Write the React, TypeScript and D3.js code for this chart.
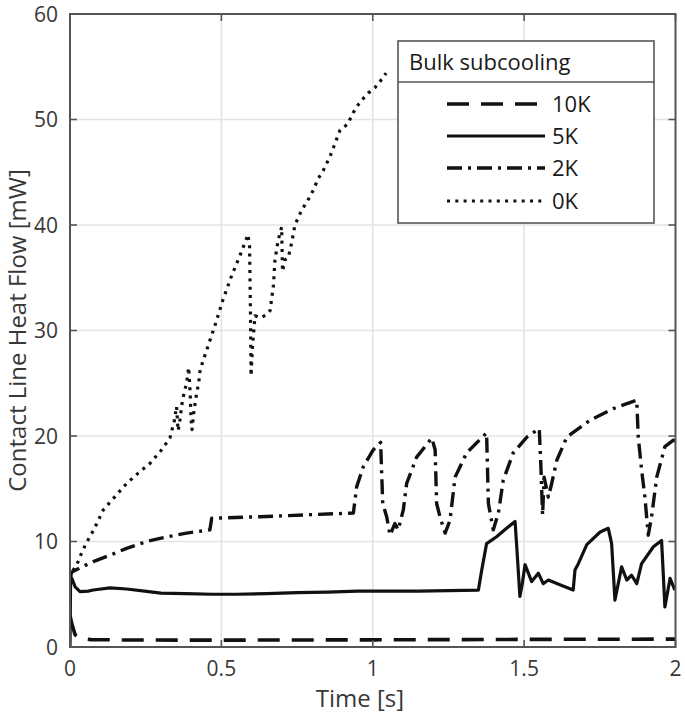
import React from 'react';
import * as d3 from 'd3';

const W = 685;
const H = 715;
const PLOT = { left: 70, right: 675.5, top: 14, bottom: 647 };

const xTicks = [0, 0.5, 1, 1.5, 2];
const xTickLabels = ['0', '0.5', '1', '1.5', '2'];
const yTicks = [0, 10, 20, 30, 40, 50, 60];
const yTickLabels = ['0', '10', '20', '30', '40', '50', '60'];

const xLabel = 'Time [s]';
const yLabel = 'Contact Line Heat Flow [mW]';
const legendTitle = 'Bulk subcooling';
const legendLabels = ['10K', '5K', '2K', '0K'];

// Bulk subcooling 10K (dashed)
const series10K: [number, number][] = [
  [0, 3.0], [0.006, 2.2], [0.017, 1.15], [0.033, 0.82], [0.07, 0.7], [0.2, 0.66],
  [0.5, 0.65], [1.0, 0.68], [1.5, 0.72], [2.0, 0.75],
];

// Bulk subcooling 5K (solid)
const series5K: [number, number][] = [
  [0, 0], [0.002, 6.6], [0.006, 6.5], [0.017, 5.7], [0.033, 5.25], [0.06, 5.3], [0.077, 5.4],
  [0.132, 5.6], [0.187, 5.5], [0.26, 5.25], [0.3, 5.1], [0.38, 5.05], [0.47, 5.0], [0.55, 5.0],
  [0.65, 5.05], [0.75, 5.15], [0.85, 5.2], [0.95, 5.3], [1.05, 5.3], [1.15, 5.3], [1.25, 5.35],
  [1.349, 5.4], [1.36, 7.3], [1.376, 9.8], [1.409, 10.45], [1.442, 11.25], [1.47, 11.9],
  [1.475, 9.8], [1.486, 4.8], [1.494, 6.0], [1.503, 7.8], [1.514, 7.0], [1.525, 6.2],
  [1.547, 7.0], [1.563, 6.0], [1.58, 6.35], [1.618, 5.9], [1.662, 5.4], [1.668, 7.3],
  [1.679, 7.9], [1.707, 9.7], [1.751, 10.9], [1.778, 11.25], [1.789, 9.8], [1.8, 4.45],
  [1.822, 7.6], [1.839, 6.35], [1.855, 6.8], [1.872, 6.0], [1.888, 7.9], [1.927, 9.5],
  [1.954, 10.1], [1.965, 3.8], [1.982, 6.5], [1.998, 5.4],
];

// Bulk subcooling 2K (dash-dot)
const series2K: [number, number][] = [
  [0, 6.5], [0.006, 7.1], [0.033, 7.5], [0.077, 8.1], [0.132, 8.7], [0.187, 9.35],
  [0.253, 10.0], [0.297, 10.3], [0.385, 10.8], [0.462, 11.1], [0.468, 12.2], [0.628, 12.35],
  [0.936, 12.7], [0.947, 15.2], [0.969, 17.1], [1.002, 18.7], [1.026, 19.4], [1.033, 13.6],
  [1.046, 12.35], [1.057, 10.6], [1.073, 11.7], [1.084, 11.1], [1.101, 13.0], [1.112, 15.5],
  [1.145, 18.0], [1.195, 19.8], [1.206, 18.7], [1.211, 13.6], [1.222, 12.35], [1.239, 10.8],
  [1.255, 12.0], [1.272, 16.1], [1.31, 18.4], [1.376, 20.3], [1.382, 13.6], [1.398, 11.1],
  [1.415, 12.7], [1.431, 15.8], [1.464, 18.4], [1.509, 19.9], [1.55, 20.7], [1.555, 17.4],
  [1.561, 12.5], [1.566, 16.1], [1.58, 14.2], [1.591, 15.5], [1.608, 17.7], [1.641, 19.9],
  [1.718, 21.5], [1.795, 22.6], [1.872, 23.4], [1.877, 19.9], [1.888, 16.8], [1.899, 14.2],
  [1.91, 10.6], [1.921, 12.35], [1.938, 16.1], [1.965, 19.0], [1.993, 19.6], [2.0, 19.5],
];

// Bulk subcooling 0K (dotted)
const series0K: [number, number][] = [
  [0, 6.5], [0.011, 7.3], [0.027, 8.1], [0.038, 8.9], [0.053, 9.8], [0.08, 11.2], [0.11, 13.0],
  [0.15, 14.3], [0.187, 15.5], [0.23, 16.6], [0.264, 17.4], [0.3, 18.6], [0.33, 19.8],
  [0.345, 21.5], [0.352, 22.8], [0.357, 20.5], [0.362, 21.3], [0.372, 23.5], [0.385, 25.0],
  [0.392, 26.5], [0.397, 24.0], [0.4, 21.5], [0.403, 20.6], [0.41, 22.5], [0.418, 24.0],
  [0.425, 25.0], [0.43, 26.3], [0.451, 28.1], [0.479, 30.5], [0.505, 32.9], [0.534, 35.2],
  [0.567, 37.5], [0.588, 39.1], [0.593, 38.0], [0.596, 32.0], [0.598, 25.7], [0.603, 28.5],
  [0.611, 31.4], [0.628, 31.2], [0.65, 31.5], [0.661, 31.9], [0.672, 34.3], [0.677, 36.7],
  [0.688, 38.6], [0.699, 39.8], [0.702, 35.6], [0.71, 36.7], [0.721, 36.9], [0.732, 38.3],
  [0.743, 40.0], [0.765, 41.4], [0.793, 42.7], [0.805, 43.4], [0.82, 44.4], [0.837, 45.2],
  [0.859, 46.5], [0.875, 47.7], [0.892, 49.0], [0.919, 49.6], [0.93, 50.4], [0.952, 51.4],
  [0.969, 52.0], [0.985, 52.5], [1.007, 53.0], [1.024, 53.6], [1.044, 54.4],
];

const seriesList = [series10K, series5K, series2K, series0K];

const FONT = "'Open Sans', 'Noto Sans', sans-serif";

export default function App() {
  const x = d3.scaleLinear().domain([0, 2]).range([PLOT.left, PLOT.right]);
  const y = d3.scaleLinear().domain([0, 60]).range([PLOT.bottom, PLOT.top]);
  const line = d3
    .line<[number, number]>()
    .x((d) => x(d[0]))
    .y((d) => y(d[1]));

  const styles = [
    { dash: '22,12', width: 3.6 },
    { dash: 'none', width: 3.2 },
    { dash: '15,6,3,6', width: 3.4 },
    { dash: '3,5.3', width: 3.2 },
  ];

  const axisColor = '#555';
  const gridColor = '#e3e3e3';
  const textColor = '#383838';
  const tickLen = 7;

  const legend = { x0: 398, x1: 654, y0: 41, sep: 82, y1: 223 };
  const legendRows = [104, 136, 168, 201];

  return (
    <svg
      width={W}
      height={H}
      style={{ position: 'absolute', left: 0, top: 0, background: '#fff' }}
      fontFamily={FONT}
    >
      <defs>
        <clipPath id="plotClip">
          <rect x={PLOT.left} y={PLOT.top} width={PLOT.right - PLOT.left} height={PLOT.bottom - PLOT.top} />
        </clipPath>
      </defs>
      <rect x={0} y={0} width={W} height={H} fill="#fff" />

      {/* grid */}
      {xTicks.slice(1, -1).map((t) => (
        <line key={'gx' + t} x1={x(t)} x2={x(t)} y1={PLOT.top} y2={PLOT.bottom} stroke={gridColor} strokeWidth={1.6} />
      ))}
      {yTicks.slice(1, -1).map((t) => (
        <line key={'gy' + t} x1={PLOT.left} x2={PLOT.right} y1={y(t)} y2={y(t)} stroke={gridColor} strokeWidth={1.6} />
      ))}

      {/* series */}
      <g clipPath="url(#plotClip)">
        {seriesList.map((s, i) => (
          <path
            key={'s' + i}
            d={line(s) || ''}
            fill="none"
            stroke="#111"
            strokeWidth={styles[i].width}
            strokeDasharray={styles[i].dash}
            strokeLinejoin="round"
          />
        ))}
      </g>

      {/* ticks */}
      {xTicks.map((t) => (
        <g key={'tx' + t}>
          <line x1={x(t)} x2={x(t)} y1={PLOT.bottom} y2={PLOT.bottom - tickLen} stroke={axisColor} strokeWidth={1.6} />
          <line x1={x(t)} x2={x(t)} y1={PLOT.top} y2={PLOT.top + tickLen} stroke={axisColor} strokeWidth={1.6} />
        </g>
      ))}
      {yTicks.map((t) => (
        <g key={'ty' + t}>
          <line x1={PLOT.left} x2={PLOT.left + tickLen} y1={y(t)} y2={y(t)} stroke={axisColor} strokeWidth={1.6} />
          <line x1={PLOT.right} x2={PLOT.right - tickLen} y1={y(t)} y2={y(t)} stroke={axisColor} strokeWidth={1.6} />
        </g>
      ))}

      {/* box */}
      <rect
        x={PLOT.left}
        y={PLOT.top}
        width={PLOT.right - PLOT.left}
        height={PLOT.bottom - PLOT.top}
        fill="none"
        stroke={axisColor}
        strokeWidth={2}
      />

      {/* tick labels */}
      {xTicks.map((t, i) => (
        <text key={'lx' + t} x={x(t)} y={676} textAnchor="middle" fontSize={21} fill={textColor}>
          {xTickLabels[i]}
        </text>
      ))}
      {yTicks.map((t, i) => (
        <text key={'ly' + t} x={58} y={y(t) + 7.5} textAnchor="end" fontSize={21} fill={textColor}>
          {yTickLabels[i]}
        </text>
      ))}

      {/* axis labels */}
      <text x={360} y={707} textAnchor="middle" fontSize={24} fill={textColor}>
        {xLabel}
      </text>
      <text
        transform={`translate(26, ${(PLOT.top + PLOT.bottom) / 2}) rotate(-90)`}
        textAnchor="middle"
        fontSize={24}
        fill={textColor}
      >
        {yLabel}
      </text>

      {/* legend */}
      <rect
        x={legend.x0}
        y={legend.y0}
        width={legend.x1 - legend.x0}
        height={legend.y1 - legend.y0}
        fill="#fff"
        stroke={axisColor}
        strokeWidth={1.6}
      />
      <line x1={legend.x0} x2={legend.x1} y1={legend.sep} y2={legend.sep} stroke={axisColor} strokeWidth={1.6} />
      <text x={409} y={70} fontSize={22} fill="#1a1a1a">
        {legendTitle}
      </text>
      {legendLabels.map((lab, i) => (
        <g key={'lg' + i}>
          <line
            x1={447}
            x2={545}
            y1={legendRows[i]}
            y2={legendRows[i]}
            stroke="#111"
            strokeWidth={styles[i].width}
            strokeDasharray={styles[i].dash}
          />
          <text x={552} y={legendRows[i] + 8} fontSize={22} fill="#1a1a1a">
            {lab}
          </text>
        </g>
      ))}
    </svg>
  );
}
